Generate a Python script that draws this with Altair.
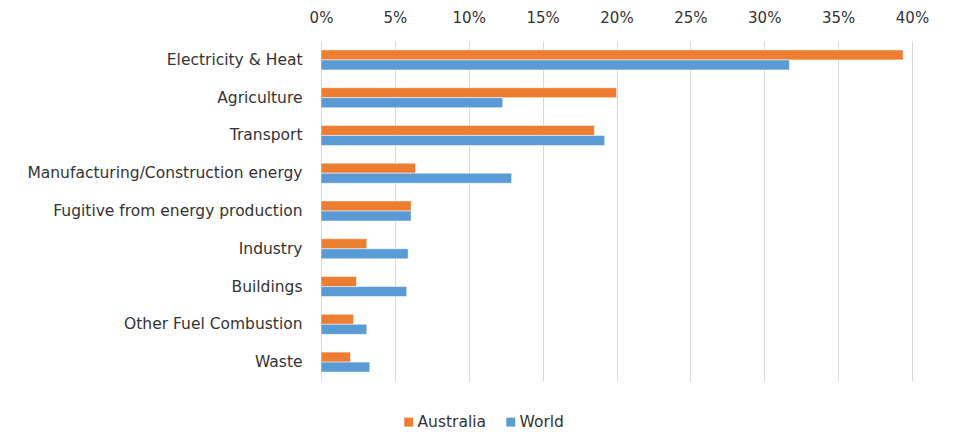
import altair as alt
import pandas as pd

categories = ["Electricity & Heat", "Agriculture", "Transport ",
              "Manufacturing/Construction energy", "Fugitive from energy production",
              "Industry", "Buildings", "Other Fuel Combustion", "Waste "]
australia = [39.4, 20.0, 18.5, 6.4, 6.1, 3.1, 2.4, 2.2, 2.0]
world = [31.7, 12.3, 19.2, 12.9, 6.1, 5.9, 5.8, 3.1, 3.3]
series = ["Australia", "World"]
colors = ["#ED7D31", "#5B9BD5"]

rows = []
for c, a, w in zip(categories, australia, world):
    rows.append({"category": c, "series": "Australia", "value": a / 100})
    rows.append({"category": c, "series": "World", "value": w / 100})
df = pd.DataFrame(rows)

FONT = "DejaVu Sans"
TXT = "#333333"

chart = alt.Chart(df).mark_bar(stroke="white", strokeWidth=0.5).encode(
    x=alt.X("value:Q",
            scale=alt.Scale(domain=[0, 0.4], nice=False),
            axis=alt.Axis(orient="top", format=".0%", values=[0, .05, .1, .15, .2, .25, .3, .35, .4],
                          title=None, domain=False, ticks=False, labelPadding=16,
                          labelFlush=False,
                          gridColor="#D9D9D9", gridWidth=1, labelFontSize=15,
                          labelColor=TXT, labelFont=FONT)),
    y=alt.Y("category:N", sort=categories,
            scale=alt.Scale(paddingInner=0.47, paddingOuter=0.235),
            axis=alt.Axis(title=None, domain=False, ticks=False, labelPadding=19,
                          labelFontSize=15.5, labelColor=TXT, labelFont=FONT,
                          labelLimit=400)),
    yOffset=alt.YOffset("series:N", sort=series, scale=alt.Scale(paddingInner=0, paddingOuter=0)),
    color=alt.Color("series:N", sort=series,
                    scale=alt.Scale(domain=series, range=colors),
                    legend=alt.Legend(title=None, orient="none", legendX=80, legendY=373,
                                      direction="horizontal", symbolType="square",
                                      symbolSize=80, symbolStrokeWidth=0,
                                      labelFontSize=15.5, labelColor=TXT,
                                      labelFont=FONT, columnPadding=16, labelOffset=1)),
).properties(
    width=591, height=340,
    autosize=alt.AutoSizeParams(type="none"),
    padding={"left": 321, "top": 41, "right": 48, "bottom": 51},
).configure_view(stroke=None)

chart.save("out.html", embed_options={"renderer": "svg", "actions": False})
